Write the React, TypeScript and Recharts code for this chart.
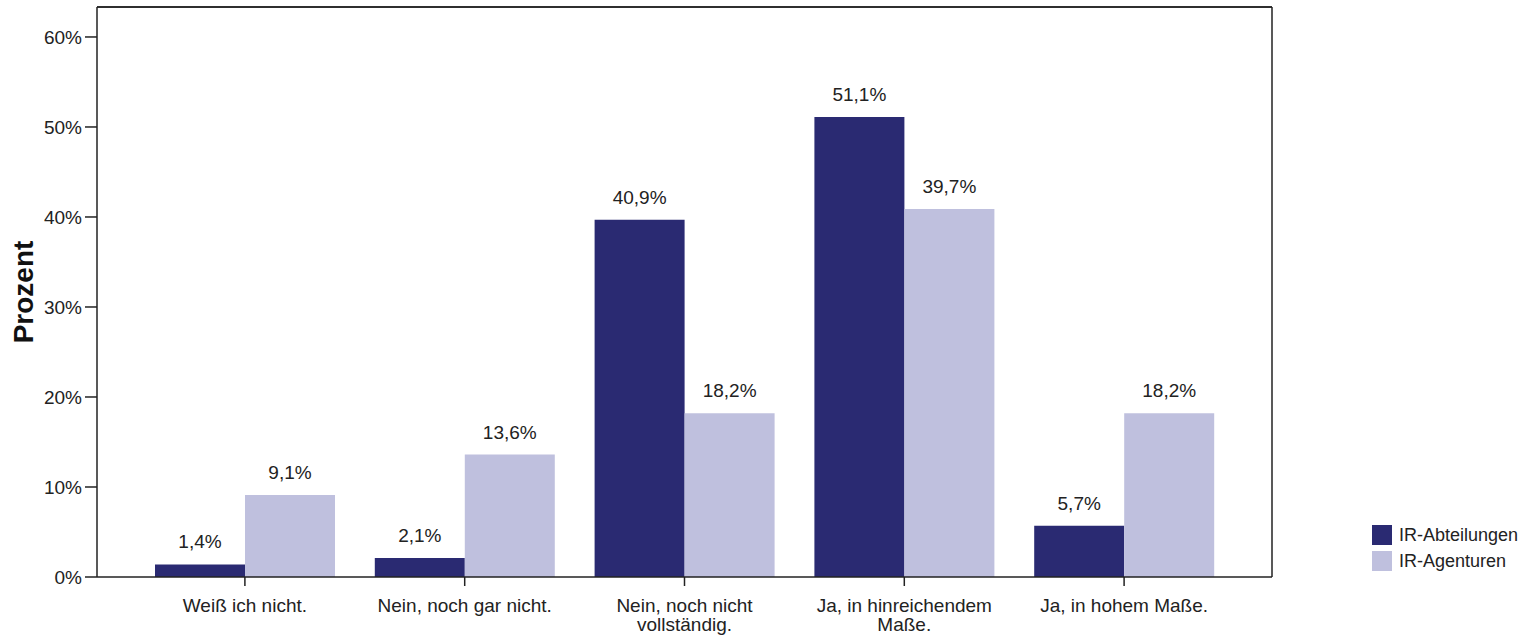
import React from "react";
import {
  BarChart,
  Bar,
  XAxis,
  YAxis,
  LabelList,
  ReferenceLine,
} from "recharts";

const categories = [
  "Weiß ich nicht.",
  "Nein, noch gar nicht.",
  "Nein, noch nicht\nvollständig.",
  "Ja, in hinreichendem\nMaße.",
  "Ja, in hohem Maße.",
];

// bar heights as drawn in the picture
const abteilungen = [1.4, 2.1, 39.7, 51.1, 5.7];
const agenturen = [9.1, 13.6, 18.2, 40.9, 18.2];

// labels as printed above the bars
const abteilungenLabels = ["1,4%", "2,1%", "40,9%", "51,1%", "5,7%"];
const agenturenLabels = ["9,1%", "13,6%", "18,2%", "39,7%", "18,2%"];

const yTicks = [0, 10, 20, 30, 40, 50, 60];
const yMax = 63.33;

const series = [
  { key: "abt", label: "abtLabel", name: "IR-Abteilungen", color: "#2A2A72" },
  { key: "agt", label: "agtLabel", name: "IR-Agenturen", color: "#BFC0DE" },
];

const data = categories.map((c, i) => ({
  cat: c,
  abt: abteilungen[i],
  agt: agenturen[i],
  abtLabel: abteilungenLabels[i],
  agtLabel: agenturenLabels[i],
}));

const FONT = "'Liberation Sans', Arial, sans-serif";
const INK = "#222";

function Txt({ x, y, anchor = "middle", size = 19, children }: any) {
  return (
    <text x={x} y={y} textAnchor={anchor} fontFamily={FONT} fontSize={size} fill={INK}>
      {children}
    </text>
  );
}

function XTick({ x, y, payload }: any) {
  const lines = String(payload.value).split("\n");
  return (
    <g>
      {lines.map((l, i) => (
        <Txt key={i} x={x} y={y + 24 + i * 19}>
          {l}
        </Txt>
      ))}
    </g>
  );
}

function YTick({ x, y, payload }: any) {
  return (
    <Txt x={x - 1} y={y + 7} anchor="end">
      {payload.value}%
    </Txt>
  );
}

function BarLabel({ x, y, width, value }: any) {
  return (
    <Txt x={x + width / 2} y={y - 16}>
      {value}
    </Txt>
  );
}

function YTitle({ viewBox }: any) {
  const bx = viewBox.x + 33;
  const cy = viewBox.y + viewBox.height / 2;
  return (
    <text
      transform={`translate(${bx} ${cy}) rotate(-90)`}
      textAnchor="middle"
      fontFamily={FONT}
      fontSize={28}
      fontWeight={700}
      fill="#111"
    >
      Prozent
    </text>
  );
}

function LegendBox() {
  return (
    <div
      style={{
        position: "absolute",
        left: 1372,
        top: 522,
        fontFamily: FONT,
        fontSize: 18,
        color: INK,
      }}
    >
      {series.map((s) => (
        <div key={s.key} style={{ display: "flex", alignItems: "center", height: 26 }}>
          <span
            style={{
              display: "inline-block",
              width: 20,
              height: 20,
              background: s.color,
              marginRight: 7,
            }}
          />
          <span>{s.name}</span>
        </div>
      ))}
    </div>
  );
}

export default function App() {
  return (
    <div style={{ position: "absolute", left: 0, top: 0, width: 1540, height: 637, background: "#fff" }}>
      <BarChart
        width={1540}
        height={637}
        data={data}
        margin={{ top: 6, right: 267, bottom: 0, left: 0 }}
        barCategoryGap={20}
        barGap={0}
      >
        <XAxis
          dataKey="cat"
          xAxisId="main"
          interval={0}
          padding={{ left: 38, right: 38 }}
          tick={<XTick />}
          tickSize={9}
          axisLine={{ stroke: INK, strokeWidth: 1.5 }}
          tickLine={{ stroke: INK, strokeWidth: 1.5 }}
          height={60}
        />
        <XAxis
          dataKey="cat"
          xAxisId="top"
          orientation="top"
          tick={false}
          tickLine={false}
          axisLine={{ stroke: INK, strokeWidth: 1.5 }}
          height={1}
        />
        <YAxis
          yAxisId="main"
          domain={[0, yMax]}
          ticks={yTicks}
          tick={<YTick />}
          tickSize={12}
          width={97}
          axisLine={{ stroke: INK, strokeWidth: 1.5 }}
          tickLine={{ stroke: INK, strokeWidth: 1.5 }}
          label={<YTitle />}
        />
        <YAxis
          yAxisId="right"
          orientation="right"
          domain={[0, yMax]}
          tick={false}
          tickLine={false}
          axisLine={{ stroke: INK, strokeWidth: 1.5 }}
          width={1}
        />
        <ReferenceLine
          y={yMax}
          xAxisId="main"
          yAxisId="main"
          stroke={INK}
          strokeWidth={1.5}
          ifOverflow="visible"
        />
        {series.map((s) => (
          <Bar
            key={s.key}
            dataKey={s.key}
            name={s.name}
            fill={s.color}
            xAxisId="main"
            yAxisId="main"
            isAnimationActive={false}
          >
            <LabelList dataKey={s.label} content={<BarLabel />} />
          </Bar>
        ))}
      </BarChart>
      <LegendBox />
    </div>
  );
}
